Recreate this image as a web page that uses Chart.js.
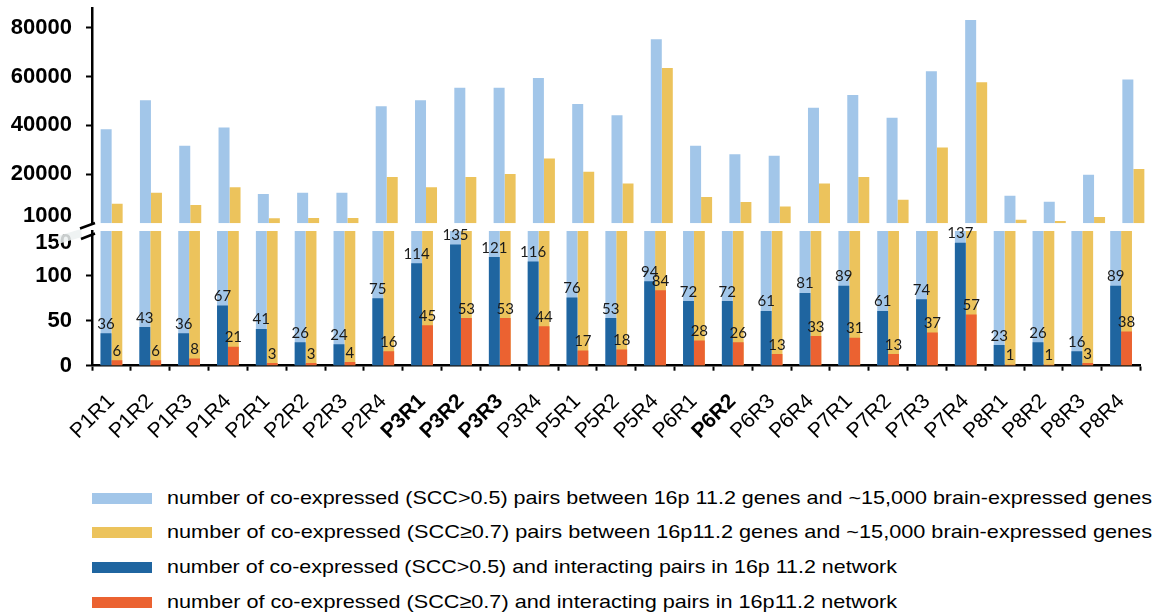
<!DOCTYPE html>
<html>
<head>
<meta charset="utf-8">
<script src="https://cdn.jsdelivr.net/npm/chart.js@4/dist/chart.umd.min.js"></script>
<style>
  html, body { margin: 0; padding: 0; background: #fff; }
  #wrap { position: relative; width: 1156px; height: 614px; overflow: hidden; background: #fff; }
  #upper { position: absolute; left: 0; top: -40px; }
  #lower { position: absolute; left: 0; top: 180px; }
  .sw { position: absolute; left: 92px; width: 60px; height: 11px; }
  .lt { position: absolute; left: 167px; height: 22px; line-height: 22px; font: 19px 'Liberation Sans', Arial, sans-serif;
        color: #000; white-space: nowrap; transform-origin: 0 50%; }
</style>
</head>
<body>
<div id="wrap">
  <canvas id="upper" width="1156" height="300"></canvas>
  <canvas id="lower" width="1156" height="300"></canvas>
  <div id="legend"></div>
</div>
<script>
// Samples (brain region / period)
const categories = ['P1R1','P1R2','P1R3','P1R4','P2R1','P2R2','P2R3','P2R4','P3R1','P3R2','P3R3','P3R4',
                    'P5R1','P5R2','P5R4','P6R1','P6R2','P6R3','P6R4','P7R1','P7R2','P7R3','P7R4',
                    'P8R1','P8R2','P8R3','P8R4'];
const boldCategories = ['P3R1','P3R2','P3R3','P6R2'];

// Co-expressed pairs between 16p11.2 genes and brain-expressed genes
const pairsScc05 = [38400, 50300, 31700, 39200, 12000, 12500, 12500, 47800, 50300, 55400, 55400, 59400,
                    48800, 44200, 75200, 31700, 28200, 27600, 47200, 52400, 43100, 62100, 83100,
                    11300, 8800, 19800, 58800];
const pairsScc07 = [8000, 12500, 7500, 14700, 2100, 2200, 2200, 18900, 14700, 18900, 20100, 26500,
                    21100, 16300, 63500, 10700, 8700, 6900, 16300, 18900, 9600, 31000, 57700,
                    1500, 900, 2600, 22200];

// Co-expressed and interacting pairs in the 16p11.2 network
const networkScc05 = [36, 43, 36, 67, 41, 26, 24, 75, 114, 135, 121, 116,
                      76, 53, 94, 72, 72, 61, 81, 89, 61, 74, 137,
                      23, 26, 16, 89];
const networkScc07 = [6, 6, 8, 21, 3, 3, 4, 16, 45, 53, 53, 44,
                      17, 18, 84, 28, 26, 13, 33, 31, 13, 37, 57,
                      1, 1, 3, 38];

// Axis ticks of the two panels of the broken axis
const upperTicks = [1000, 20000, 40000, 60000, 80000];
const lowerTicks = [0, 50, 100, 150];

const seriesNames = [
  'number of co-expressed (SCC>0.5) pairs between 16p 11.2 genes and ~15,000 brain-expressed genes',
  'number of co-expressed (SCC\u22650.7) pairs between 16p11.2 genes and ~15,000 brain-expressed genes',
  'number of co-expressed (SCC>0.5) and interacting pairs in 16p 11.2 network',
  'number of co-expressed (SCC\u22650.7) and interacting pairs in 16p11.2 network'
];

const LIGHT_BLUE = '#A2C6E9';
const YELLOW = '#ECC35C';
const DARK_BLUE = '#1F65A0';
const ORANGE = '#EB6231';
const seriesColors = [LIGHT_BLUE, YELLOW, DARK_BLUE, ORANGE];
const FAMILY = "'Liberation Sans', Arial, sans-serif";
const CLEAR = 'rgba(0,0,0,0)';

function axisTickFont(ctx, edgeValue, lineHeightPx) {
  const isEdge = ctx.tick && ctx.tick.value === edgeValue;
  return { family: FAMILY, size: 22, weight: 'bold', lineHeight: isEdge ? lineHeightPx / 22 : 1.2 };
}

// Upper panel: large counts
new Chart(document.getElementById('upper'), {
  type: 'bar',
  data: {
    labels: categories,
    datasets: [
      { label: seriesNames[0], data: pairsScc05, backgroundColor: LIGHT_BLUE },
      { label: seriesNames[1], data: pairsScc07, backgroundColor: YELLOW }
    ]
  },
  options: {
    responsive: false,
    animation: false,
    layout: { padding: { top: 48, bottom: 36.7, left: 0, right: 3 } },
    datasets: { bar: { categoryPercentage: 0.56, barPercentage: 1 } },
    plugins: { legend: { display: false }, tooltip: { enabled: false } },
    scales: {
      x: { display: false },
      y: {
        min: 0, max: 88000,
        afterBuildTicks: ax => { ax.ticks = upperTicks.map(v => ({ value: v })); },
        afterFit: ax => { ax.width = 92; },
        border: { color: '#000', width: 2.5 },
        grid: {
          drawOnChartArea: false, tickLength: 6, tickWidth: 2,
          tickColor: ctx => (ctx.tick && ctx.tick.value === upperTicks[0]) ? CLEAR : '#000'
        },
        ticks: {
          autoSkip: false, padding: 14, color: '#000',
          font: ctx => axisTickFont(ctx, upperTicks[0], 9),
          callback: v => v === upperTicks[0] ? [String(v), ''] : String(v)
        }
      }
    }
  }
});

// Value labels above the network bars
const valueLabels = {
  id: 'valueLabels',
  afterDatasetsDraw(chart) {
    const ctx = chart.ctx;
    ctx.save();
    ctx.font = "15px Lato, 'Open Sans', sans-serif";
    ctx.fillStyle = '#1a1a1a';
    ctx.textAlign = 'center';
    ctx.textBaseline = 'alphabetic';
    [0, 1].forEach(di => {
      const values = chart.data.datasets[di].data;
      chart.getDatasetMeta(di).data.forEach((bar, i) => {
        ctx.fillText(String(values[i]), bar.x, bar.y - 4.5);
      });
    });
    ctx.restore();
  }
};

// Break marks between the two panels of the y axis
const axisBreak = {
  id: 'axisBreak',
  afterDraw(chart) {
    const ctx = chart.ctx;
    const x = chart.chartArea.left;
    const t = chart.chartArea.top;
    ctx.save();
    ctx.fillStyle = 'rgba(236,241,241,0.85)';
    ctx.beginPath();
    ctx.moveTo(x - 34, t + 5);
    ctx.lineTo(x - 11, t - 2);
    ctx.lineTo(x - 10, t + 6);
    ctx.lineTo(x - 34, t + 13);
    ctx.closePath();
    ctx.fill();
    ctx.strokeStyle = '#000';
    ctx.lineWidth = 2.5;
    ctx.beginPath();
    ctx.moveTo(x - 12, t - 2.5);
    ctx.lineTo(x + 3, t - 8);
    ctx.moveTo(x - 11, t + 8);
    ctx.lineTo(x + 3, t + 2.5);
    ctx.stroke();
    ctx.restore();
  }
};

// Lower panel: network counts drawn over the clipped large-count bars
new Chart(document.getElementById('lower'), {
  type: 'bar',
  data: {
    labels: categories,
    datasets: [
      { label: seriesNames[2], data: networkScc05, backgroundColor: DARK_BLUE, stack: 'a', order: 0 },
      { label: seriesNames[3], data: networkScc07, backgroundColor: ORANGE, stack: 'b', order: 0 },
      { label: seriesNames[0], data: pairsScc05, backgroundColor: LIGHT_BLUE, stack: 'a', order: 1 },
      { label: seriesNames[1], data: pairsScc07, backgroundColor: YELLOW, stack: 'b', order: 1 }
    ]
  },
  options: {
    responsive: false,
    animation: false,
    layout: { padding: { top: 51, bottom: 14.3, left: 0, right: 3 } },
    datasets: { bar: { categoryPercentage: 0.56, barPercentage: 1 } },
    plugins: { legend: { display: false }, tooltip: { enabled: false } },
    scales: {
      x: {
        stacked: true,
        afterFit: ax => { ax.height = 100; },
        border: { color: '#000', width: 2.5 },
        grid: { drawOnChartArea: false, offset: true, tickLength: 5, tickWidth: 2, tickColor: '#000' },
        ticks: {
          autoSkip: false, minRotation: 45, maxRotation: 45, padding: 20, labelOffset: 0, color: '#000',
          font: ctx => ({
            family: FAMILY, size: 21, lineHeight: 1,
            weight: boldCategories.includes(categories[ctx.index]) ? 'bold' : 'normal'
          })
        }
      },
      y: {
        stacked: false,
        min: 0, max: 150,
        afterBuildTicks: ax => { ax.ticks = lowerTicks.map(v => ({ value: v })); },
        afterFit: ax => { ax.width = 92; },
        border: { color: '#000', width: 2.5 },
        grid: {
          drawOnChartArea: false, tickLength: 6, tickWidth: 2,
          tickColor: ctx => (ctx.tick && ctx.tick.value === lowerTicks[lowerTicks.length - 1]) ? CLEAR : '#000'
        },
        ticks: {
          autoSkip: false, padding: 14, color: '#000',
          font: ctx => axisTickFont(ctx, lowerTicks[lowerTicks.length - 1], 24),
          callback: v => v === lowerTicks[lowerTicks.length - 1] ? ['', String(v)] : String(v)
        }
      }
    }
  },
  plugins: [valueLabels, axisBreak]
});

// Legend
const legendRows = [
  { y: 498, width: 985 },
  { y: 532, width: 985 },
  { y: 567, width: 730 },
  { y: 602, width: 730 }
];
const legend = document.getElementById('legend');
legendRows.forEach((row, i) => {
  const sw = document.createElement('div');
  sw.className = 'sw';
  sw.style.top = (row.y - 5.5) + 'px';
  sw.style.background = seriesColors[i];
  legend.appendChild(sw);
  const txt = document.createElement('div');
  txt.className = 'lt';
  txt.style.top = (row.y - 11) + 'px';
  txt.textContent = seriesNames[i];
  legend.appendChild(txt);
  const w = txt.getBoundingClientRect().width;
  if (w > 0) txt.style.transform = 'scaleX(' + (row.width / w) + ')';
});
</script>
</body>
</html>
